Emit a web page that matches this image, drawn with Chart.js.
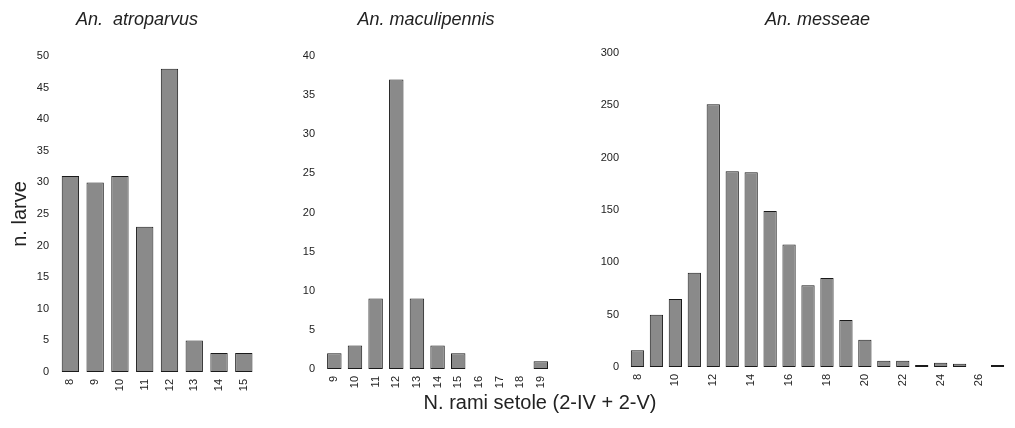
<!DOCTYPE html>
<html>
<head>
<meta charset="utf-8">
<script src="https://cdn.jsdelivr.net/npm/chart.js"></script>
<style>
  html, body { margin: 0; padding: 0; background: #fff; overflow: hidden; }
  body { width: 1015px; height: 428px; position: relative; }
  canvas { position: absolute; }
  #xTitle {
    position: absolute; left: 540px; top: 391px; transform: translateX(-50%);
    font-family: 'Liberation Sans', Arial, sans-serif; font-size: 20px; line-height: 23px;
    color: #222; white-space: nowrap;
  }
</style>
</head>
<body>
<canvas id="c1" width="254" height="402" style="left:10px;top:0"></canvas>
<canvas id="c2" width="270" height="399" style="left:291px;top:0"></canvas>
<canvas id="c3" width="428" height="397" style="left:590px;top:0"></canvas>
<div id="xTitle">N. rami setole (2-IV + 2-V)</div>
<script>
// numero di rami (categorie) e conteggi larve per specie
const atroLabels = ['8', '9', '10', '11', '12', '13', '14', '15'];
const atroValues = [31, 30, 31, 23, 48, 5, 3, 3];

const macuLabels = ['9', '10', '11', '12', '13', '14', '15', '16', '17', '18', '19'];
const macuValues = [2, 3, 9, 37, 9, 3, 2, 0, 0, 0, 1];

const messLabels = ['8', '9', '10', '11', '12', '13', '14', '15', '16', '17',
                    '18', '19', '20', '21', '22', '23', '24', '25', '26', '27'];
const messValues = [16, 50, 65, 90, 251, 187, 186, 149, 117, 78,
                    85, 45, 26, 6, 6, 2, 4, 3, 0, 2];

Chart.defaults.font.family = "'Liberation Sans', Arial, sans-serif";
Chart.defaults.color = '#222';

function makeChart(id, title, labels, values, o) {
  new Chart(document.getElementById(id), {
    type: 'bar',
    data: {
      labels: labels,
      datasets: [{
        data: values,
        backgroundColor: '#8a8a8a',
        borderColor: '#1a1a1a',
        borderWidth: 1,
        borderSkipped: false,
        barPercentage: 0.7,
        categoryPercentage: 1
      }]
    },
    options: {
      responsive: false,
      animation: false,
      plugins: {
        legend: { display: false },
        tooltip: { enabled: false },
        title: {
          display: true,
          text: title,
          fullSize: o.titleFull,
          font: { size: 18, style: 'italic', weight: 'normal' },
          color: '#222',
          padding: { top: 9, bottom: o.titleGap }
        }
      },
      scales: {
        x: {
          grid: { display: false, drawTicks: false },
          border: { display: false },
          ticks: {
            autoSkip: false,
            maxRotation: 90,
            minRotation: 90,
            padding: 7,
            font: { size: 11 },
            callback: o.xCallback || function (v) { return this.getLabelForValue(v); }
          },
          afterFit: function (s) { s.height = 30; }
        },
        y: {
          min: 0,
          max: o.yMax,
          grid: { display: false, drawTicks: false },
          border: { display: false },
          ticks: { stepSize: o.yStep, padding: 9, font: { size: 11 } },
          title: o.yTitle ? {
            display: true,
            text: o.yTitle,
            font: { size: 20, lineHeight: 1 },
            color: '#222',
            padding: { top: 0, bottom: 0 }
          } : { display: false },
          afterFit: function (s) { s.width = o.yWidth; }
        }
      }
    }
  });
}

makeChart('c1', 'An.  atroparvus', atroLabels, atroValues,
  { titleFull: true, titleGap: 25.4, yMax: 50, yStep: 5, yWidth: 48, yTitle: 'n. larve' });

makeChart('c2', 'An. maculipennis', macuLabels, macuValues,
  { titleFull: true, titleGap: 25.4, yMax: 40, yStep: 5, yWidth: 33 });

makeChart('c3', 'An. messeae', messLabels, messValues,
  { titleFull: false, titleGap: 22.4, yMax: 300, yStep: 50, yWidth: 38,
    xCallback: function (v) {
      const lab = this.getLabelForValue(v);
      return Number(lab) % 2 === 0 ? lab : '';
    } });
</script>
</body>
</html>
